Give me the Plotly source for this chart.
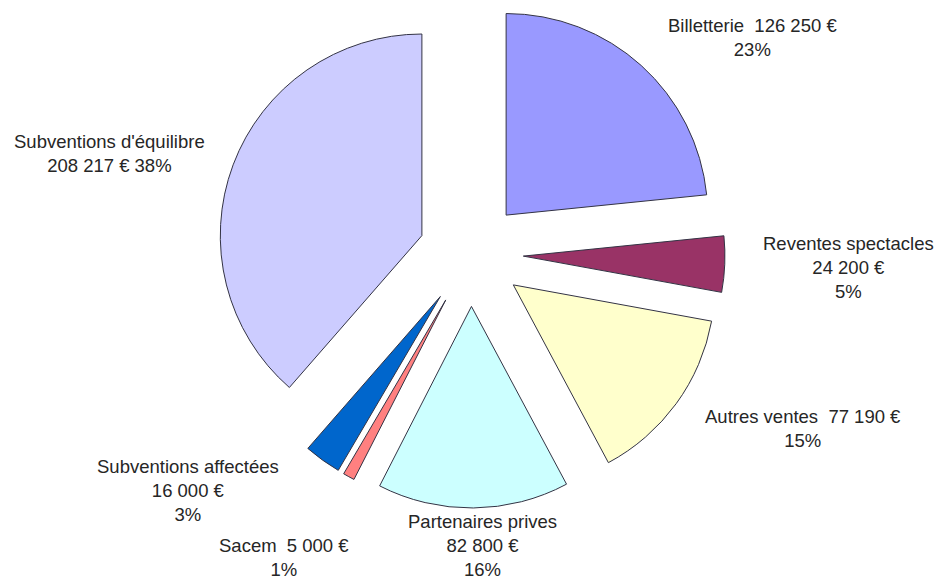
import plotly.graph_objects as go

categories = ["Billetterie", "Reventes spectacles", "Autres ventes", "Partenaires prives",
              "Sacem", "Subventions affectées", "Subventions d'équilibre"]
values = [126250, 24200, 77190, 82800, 5000, 16000, 208217]
amount_labels = ["126 250 €", "24 200 €", "77 190 €", "82 800 €", "5 000 €", "16 000 €", "208 217 €"]
percent_labels = ["23%", "5%", "15%", "16%", "1%", "3%", "38%"]

colors = ["#9999FF", "#993366", "#FFFFCC", "#CCFFFF", "#FF8080", "#0066CC", "#CCCCFF"]

# label text layout (line templates) and positions in pixels (center of text block)
label_templates = [
    "{c}  {a}<br>{p}",
    "{c}<br>{a}<br>{p}",
    "{c}  {a}<br>{p}",
    "{c}<br>{a}<br>{p}",
    "{c}  {a}<br>{p}",
    "{c}<br>{a}<br>{p}",
    "{c}<br>{a} {p}",
]
label_px = [(752, 37), (848, 267), (803, 428), (482, 545), (284, 557), (188, 490), (109, 154)]

W, H = 941, 581

fig = go.Figure(go.Pie(
    labels=categories,
    values=values,
    sort=False,
    direction="clockwise",
    rotation=0,
    pull=[0.26] * len(values),
    marker=dict(colors=colors, line=dict(color="#333344", width=1)),
    textinfo="none",
    hoverinfo="label+value",
    showlegend=False,
    domain=dict(x=[0.5005 - 254 / W, 0.5005 + 254 / W], y=[1 - 508 / H, 1.0]),
))

annotations = []
for c, a, p, t, (px, py) in zip(categories, amount_labels, percent_labels, label_templates, label_px):
    annotations.append(dict(
        x=px / W, y=1 - py / H, xref="paper", yref="paper",
        text=t.format(c=c, a=a, p=p), showarrow=False,
        xanchor="center", yanchor="middle", align="center",
        font=dict(family="Liberation Sans, Arial, sans-serif", size=18.5, color="#262626"),
    ))

fig.update_layout(
    width=W, height=H,
    margin=dict(l=0, r=0, t=0, b=0),
    paper_bgcolor="white", plot_bgcolor="white",
    annotations=annotations,
)

fig.write_html(
    "out.html",
    config={"displayModeBar": False},
    post_script="document.body.style.margin='0';document.body.style.overflow='hidden';",
)
